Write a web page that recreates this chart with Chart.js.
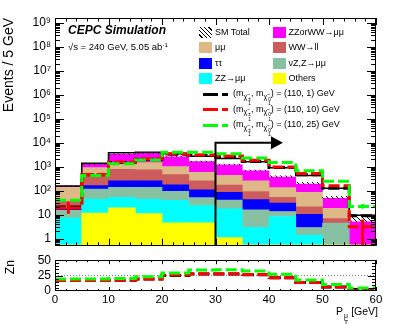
<!DOCTYPE html>
<html>
<head>
<meta charset="utf-8">
<script src="https://cdn.jsdelivr.net/npm/chart.js@4.4.1/dist/chart.umd.min.js"></script>
<style>
  body { margin: 0; background: #fff; }
  #wrap { position: relative; width: 399px; height: 324px; overflow: hidden; background: #fff;
          font-family: 'Liberation Sans', Arial, Helvetica, sans-serif; color: #000; }
  #wrap canvas { position: absolute; left: 0; }
  .lbl { position: absolute; white-space: nowrap; line-height: 1; }
  .box { position: absolute; width: 13px; height: 11px; }
  .dash { position: absolute; height: 3px; }
  .st { display: inline-flex; flex-direction: column; vertical-align: -0.45em; font-size: 65%; line-height: 0.95; margin-left: 1px; }
  .sb { font-size: 80%; vertical-align: -0.35em; }
  .sup { font-size: 65%; vertical-align: 0.55em; }
</style>
</head>
<body>
<div id="wrap">
  <canvas id="mainChart" width="399" height="257" style="top:0"></canvas>
  <canvas id="znChart" width="399" height="75" style="top:249px"></canvas>
  <div class="lbl" style="left:68px;top:24px;font-size:12px;font-weight:bold;font-style:italic">CEPC Simulation</div>
  <div class="lbl" style="left:68px;top:42px;font-size:9.5px">√s = 240 GeV, 5.05 ab<span class="sup">-1</span></div>
  <div class="lbl" style="right:21px;top:306px;font-size:10.5px">P<span class="st"><span>μ</span><span>T</span></span> [GeV]</div>
  <div id="legend"></div>
</div>
<script>
// Binning: P_T^mu in 5 GeV bins, 0-60 GeV
var binEdges = [0, 5, 10, 15, 20, 25, 30, 35, 40, 45, 50, 55, 60];

// Background stack, bottom to top (events / 5 GeV)
var others  = [0.55, 11.7, 19, 11, 4.5, 4.5, 1.1, 0.55, 0.55, 0.55, 0.55, 0.55];
var zzMuMu  = [6.8, 33, 34, 34, 35, 19.5, 16.5, 2.4, 7.8, 0.85, 0, 0];
var nuZ     = [7.7, 72, 85, 93, 55, 27, 23, 13, 5.2, 1.5, 3.9, 0];
var tauTau  = [2, 45, 122, 122, 80, 57, 45, 26, 16.5, 7.5, 0, 0];
var wwLL    = [19, 308, 520, 480, 295, 152, 84, 50, 23, 10.6, 2.4, 0];
var muMu    = [102, 450, 700, 740, 530, 315, 270, 168, 81, 65, 11.6, 0];
var zzOrWW  = [12, 330, 1760, 2120, 1600, 1045, 760, 415, 236, 104, 29.5, 4.5];

var bkgNames  = ['Others', 'ZZ→μμ', 'νZ,Z→μμ', 'ττ', 'WW→ll', 'μμ', 'ZZorWW→μμ'];
var bkgColors = ['#ffff00', '#00ffff', '#87c1a1', '#0000ff', '#cd5c5c', '#deb887', '#ff00ff'];
var bkgValues = [others, zzMuMu, nuZ, tauTau, wwLL, muMu, zzOrWW];

// SM total outline and top of its hatched uncertainty band
var smTotal  = [158, 1380, 3800, 4000, 3460, 2700, 2200, 1600, 900, 430, 125, 9.4];
var smBandHi = [158, 1300, 3400, 3800, 2750, 1700, 1280, 720, 420, 225, 58, 8.5];

// Signals (m_chi, m_chi) = (110, 1), (110, 10), (110, 25) GeV
var sig1  = [21, 460, 1480, 2000, 3300, 3000, 2600, 1650, 920, 460, 125, 9];
var sig10 = [19, 470, 1570, 2150, 3500, 3100, 2800, 1850, 980, 520, 160, 3.1];
var sig25 = [40, 430, 1340, 1900, 4000, 4000, 3460, 2300, 1480, 675, 245, 22];
var sigLabels = ['(110, 1) GeV', '(110, 10) GeV', '(110, 25) GeV'];
var sigColors = ['#000000', '#ff0000', '#00ff00'];

// Error bars drawn on some signal bins
var errBins10 = [0, 11], errLo10 = [11, 0.3], errHi10 = [33, 6.2];
var errBins25 = [11], errLo25 = [18], errHi25 = [28];

// Significance Zn per bin
var zn1  = [17, 17, 17.5, 19.4, 25, 27.5, 27.5, 26.5, 21.5, 13.6, 6.5, 2.5];
var zn10 = [17, 17, 17.5, 19.4, 25.8, 28.2, 28.2, 26.7, 21.5, 13.6, 6.3, 1];
var zn25 = [19.4, 19.4, 20.4, 23.3, 29.2, 34, 34.5, 32.5, 27, 18, 10.5, 5];
var znRef = 25;

// Axis ticks
var yTickValues = [1, 10, 100, 1e3, 1e4, 1e5, 1e6, 1e7, 1e8, 1e9];
var yTickLabels = ['1', '10', '10²', '10³', '10⁴', '10⁵', '10⁶', '10⁷', '10⁸', '10⁹'];
var znTickValues = [0, 25, 50];

// Cut arrow: P_T > 30 GeV
var cutAt = 30, arrowLevel = 1e4, arrowTip = 42.6;

// stack starts below the visible log range
var stackFloor = 0.1;

Chart.defaults.font.family = "'Liberation Sans', Arial, Helvetica, sans-serif";
Chart.defaults.color = '#000';

function centers() {
    return binEdges.slice(0, -1).map(function (e, i) { return (e + binEdges[i + 1]) / 2; });
}
function stepPoints(vals) {
    var pts = vals.map(function (v, i) { return { x: binEdges[i], y: v }; });
    pts.push({ x: binEdges[binEdges.length - 1], y: vals[vals.length - 1] });
    return pts;
}
function errPoints(bins, lo, hi) {
    var c = centers(), pts = [];
    bins.forEach(function (b, i) {
        pts.push({ x: c[b], y: lo[i] }, { x: c[b], y: hi[i] }, { x: c[b], y: null });
    });
    return pts;
}

// Hatch pattern for SM total band
function hatch() {
    var c = document.createElement('canvas');
    c.width = 5; c.height = 5;
    var g = c.getContext('2d');
    g.strokeStyle = '#000'; g.lineWidth = 1;
    g.beginPath(); g.moveTo(-1, -1); g.lineTo(6, 6); g.stroke();
    return g.createPattern(c, 'repeat');
}

// ROOT-like frame with inside tick marks on all four sides
function makeFrame(yMarks, xMajor, xMinor) {
    return {
        id: 'frame',
        afterDatasetsDraw: function (chart) {
            var a = chart.chartArea, ctx = chart.ctx;
            var xs = chart.scales.x, ys = chart.scales.y;
            ctx.save();
            ctx.strokeStyle = '#000';
            ctx.lineWidth = 1;
            ctx.beginPath();
            for (var v = 0; v <= 60; v += 2) {
                var px = Math.round(xs.getPixelForValue(v)) + 0.5;
                var L = v % 10 === 0 ? xMajor : xMinor;
                ctx.moveTo(px, a.bottom); ctx.lineTo(px, a.bottom - L);
                ctx.moveTo(px, a.top); ctx.lineTo(px, a.top + L);
            }
            yMarks.forEach(function (m) {
                var py = Math.round(ys.getPixelForValue(m[0])) + 0.5;
                if (py < a.top || py > a.bottom) return;
                ctx.moveTo(a.left, py); ctx.lineTo(a.left + m[1], py);
                ctx.moveTo(a.right, py); ctx.lineTo(a.right - m[1], py);
            });
            ctx.stroke();
            ctx.strokeRect(Math.round(a.left) + 0.5, Math.round(a.top) + 0.5,
                           Math.round(a.width) - 1, Math.round(a.height) - 1);
            ctx.restore();
        }
    };
}

var cutArrow = {
    id: 'cutArrow',
    afterDatasetsDraw: function (chart) {
        var ctx = chart.ctx, xs = chart.scales.x, ys = chart.scales.y, a = chart.chartArea;
        var x0 = xs.getPixelForValue(cutAt), y0 = ys.getPixelForValue(arrowLevel);
        var xt = xs.getPixelForValue(arrowTip), xb = xt - 12;
        ctx.save();
        ctx.strokeStyle = '#000'; ctx.fillStyle = '#000'; ctx.lineWidth = 2;
        ctx.beginPath();
        ctx.moveTo(x0, a.bottom); ctx.lineTo(x0, y0); ctx.lineTo(xb, y0);
        ctx.stroke();
        ctx.beginPath();
        ctx.moveTo(xb, y0 - 6.5); ctx.lineTo(xt, y0); ctx.lineTo(xb, y0 + 6.5);
        ctx.closePath(); ctx.fill();
        ctx.restore();
    }
};

// ---------- Main stacked plot ----------
var cum = binEdges.slice(0, -1).map(function () { return 0; });
var mid = centers();
var datasets = bkgValues.map(function (vals, k) {
    var data = vals.map(function (v, i) {
        var lo = cum[i] > 0 ? cum[i] : stackFloor;
        cum[i] += v;
        return { x: mid[i], y: v > 0 ? [lo, cum[i]] : null };
    });
    return {
        type: 'bar', label: bkgNames[k], data: data,
        backgroundColor: bkgColors[k], borderWidth: 0,
        grouped: false, barPercentage: 1, categoryPercentage: 1, order: 10
    };
});
datasets.push({
    type: 'bar', label: 'SM Total band',
    data: smBandHi.map(function (h, i) { return { x: mid[i], y: h > cum[i] ? [cum[i], h] : null }; }),
    backgroundColor: hatch(), borderWidth: 0,
    grouped: false, barPercentage: 1, categoryPercentage: 1, order: 9
});
datasets.push({
    type: 'line', label: 'SM Total', data: stepPoints(smTotal), stepped: 'before',
    borderColor: '#000', borderWidth: 1.5, pointRadius: 0, fill: false, order: 8
});
[sig1, sig10, sig25].forEach(function (s, k) {
    datasets.push({
        type: 'line', label: sigLabels[k], data: stepPoints(s), stepped: 'before',
        borderColor: sigColors[k], borderWidth: 3, borderDash: [11, 4],
        pointRadius: 0, fill: false, order: 3 - k
    });
});
datasets.push({
    type: 'line', data: errPoints(errBins10, errLo10, errHi10), spanGaps: false,
    borderColor: sigColors[1], borderWidth: 3, pointRadius: 0, fill: false, order: 2
});
datasets.push({
    type: 'line', data: errPoints(errBins25, errLo25, errHi25), spanGaps: false,
    borderColor: sigColors[2], borderWidth: 3, pointRadius: 0, fill: false, order: 1
});

var logMarks = [];
for (var e = -1; e <= 9; e++) {
    for (var k = 1; k <= 9; k++) logMarks.push([k * Math.pow(10, e), k === 1 ? 9 : 5]);
}

new Chart(document.getElementById('mainChart').getContext('2d'), {
    type: 'bar',
    data: { datasets: datasets },
    options: {
        responsive: false,
        animation: false,
        devicePixelRatio: 1,
        layout: { padding: { left: 0, right: 23, top: 18, bottom: 8 } },
        plugins: { legend: { display: false }, tooltip: { enabled: false } },
        scales: {
            x: {
                type: 'linear', min: 0, max: 60, offset: false, display: false,
                grid: { display: false, offset: false }
            },
            y: {
                type: 'logarithmic', min: 0.5, max: 1.6e9,
                afterBuildTicks: function (s) { s.ticks = yTickValues.map(function (v) { return { value: v }; }); },
                afterFit: function (s) { s.width = 55; },
                ticks: {
                    autoSkip: false, padding: 4, font: { size: 12 },
                    callback: function (v, i) { return yTickLabels[i]; }
                },
                grid: { display: false, drawTicks: false },
                border: { display: false },
                title: { display: true, text: 'Events / 5 GeV', align: 'end', font: { size: 14 }, padding: { top: 1, bottom: 0 } }
            }
        }
    },
    plugins: [makeFrame(logMarks, 7, 3.5), cutArrow]
});

// ---------- Zn panel ----------
var znMarks = [];
for (var z = 0; z <= 50; z += 5) znMarks.push([z, z % 25 === 0 ? 8 : 4]);

var znSets = [{
    label: 'ref', data: [{ x: 0, y: znRef }, { x: 60, y: znRef }],
    borderColor: '#777', borderWidth: 1, borderDash: [1, 2], pointRadius: 0, fill: false, order: 5
}];
[zn1, zn10, zn25].forEach(function (s, k) {
    znSets.push({
        label: sigLabels[k], data: stepPoints(s), stepped: 'before',
        borderColor: sigColors[k], borderWidth: 3, borderDash: [11, 4],
        pointRadius: 0, fill: false, order: 3 - k
    });
});

new Chart(document.getElementById('znChart').getContext('2d'), {
    type: 'line',
    data: { datasets: znSets },
    options: {
        responsive: false,
        animation: false,
        devicePixelRatio: 1,
        layout: { padding: { left: 0, right: 23, top: 7.5, bottom: 0 } },
        plugins: { legend: { display: false }, tooltip: { enabled: false } },
        scales: {
            x: {
                type: 'linear', min: 0, max: 60,
                afterFit: function (s) { s.height = 33; },
                ticks: { stepSize: 10, padding: 2, font: { size: 11.5 }, maxRotation: 0 },
                grid: { display: false, drawTicks: false },
                border: { display: false }
            },
            y: {
                min: 0, max: 50,
                afterBuildTicks: function (s) { s.ticks = znTickValues.map(function (v) { return { value: v }; }); },
                afterFit: function (s) { s.width = 55; },
                ticks: { autoSkip: false, padding: 4, font: { size: 12 } },
                grid: { display: false, drawTicks: false },
                border: { display: false },
                title: { display: true, text: 'Zn', align: 'end', font: { size: 12 }, padding: { top: 3, bottom: 0 } }
            }
        }
    },
    plugins: [makeFrame(znMarks, 4, 2)]
});

// ---------- Legend ----------
var legend = document.getElementById('legend');
var legendCols = [[-1, 5, 3, 1], [6, 4, 2, 0]];
var colX = [199, 272.5];
legendCols.forEach(function (col, c) {
    col.forEach(function (idx, r) {
        var yc = 32 + 15.5 * r;
        var sw = document.createElement('div');
        sw.className = 'box';
        sw.style.left = colX[c] + 'px';
        sw.style.top = (yc - 5.5) + 'px';
        if (idx < 0) {
            sw.style.background = 'repeating-linear-gradient(45deg, transparent 0 2px, #000 2px 3px)';
        } else {
            sw.style.background = bkgColors[idx];
        }
        legend.appendChild(sw);
        var t = document.createElement('div');
        t.className = 'lbl';
        t.style.left = (colX[c] + 16) + 'px';
        t.style.top = (yc - 4.5) + 'px';
        t.style.fontSize = '9px';
        t.textContent = idx < 0 ? 'SM Total' : bkgNames[idx];
        legend.appendChild(t);
    });
});
sigLabels.forEach(function (lab, k) {
    var yc = 94 + 15.5 * k;
    [[203, 15], [222, 6]].forEach(function (d) {
        var ds = document.createElement('div');
        ds.className = 'dash';
        ds.style.left = d[0] + 'px';
        ds.style.width = d[1] + 'px';
        ds.style.top = (yc - 1.5) + 'px';
        ds.style.background = sigColors[k];
        legend.appendChild(ds);
    });
    var t = document.createElement('div');
    t.className = 'lbl';
    t.style.left = '233px';
    t.style.top = (yc - 5) + 'px';
    t.style.fontSize = '9px';
    t.innerHTML = '(m<span class="sb">χ̃<span class="st"><span>±</span><span>1</span></span></span>, ' +
                  'm<span class="sb">χ̃<span class="st"><span>0</span><span>1</span></span></span>) = ' + lab;
    legend.appendChild(t);
});
</script>
</body>
</html>
